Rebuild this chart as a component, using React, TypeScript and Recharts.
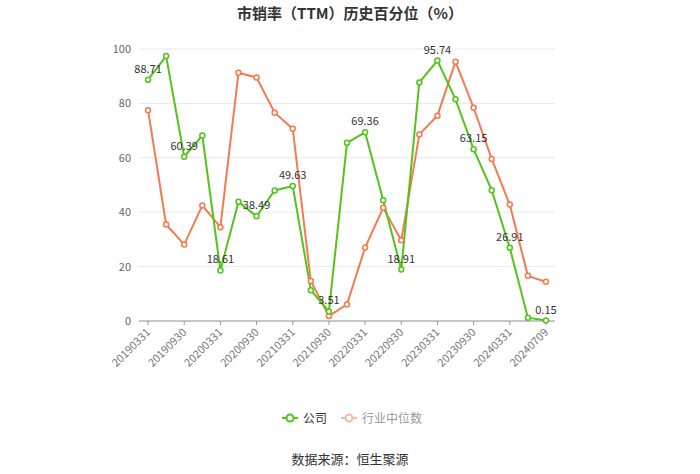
import React from "react";
import { LineChart, Line, XAxis, YAxis, CartesianGrid, LabelList } from "recharts";

const dates = [
  "20190331", "20190630", "20190930", "20191231", "20200331", "20200630", "20200930", "20201231",
  "20210331", "20210630", "20210930", "20211231", "20220331", "20220630", "20220930", "20221231",
  "20230331", "20230630", "20230930", "20231231", "20240331", "20240630", "20240709",
];
const company = [
  88.71, 97.4, 60.39, 68.2, 18.61, 43.8, 38.49, 48.0, 49.63, 11.3, 3.51, 65.5,
  69.36, 44.4, 18.91, 87.7, 95.74, 81.5, 63.15, 48.1, 26.91, 1.2, 0.15,
];
const industry = [
  77.5, 35.5, 28.1, 42.5, 34.5, 91.3, 89.5, 76.6, 70.7, 14.7, 1.8, 6.1,
  27.0, 41.6, 29.7, 68.6, 75.5, 95.3, 78.4, 59.6, 42.8, 16.6, 14.4,
];
const yTicks = [0, 20, 40, 60, 80, 100];

const GREEN = "#52c41a";
const ORANGE = "#f47a4f";
const FONT = '"Noto Sans CJK SC", "Noto Sans", sans-serif';

const data = dates.map((d, i) => ({ date: d, company: company[i], industry: industry[i] }));

const renderLabel = (props: any) => {
  const { x, y, value, index } = props;
  if (index % 2 !== 0) return null;
  return (
    <text x={x} y={y - 7} textAnchor="middle" fontSize={11} fill="#333" fontFamily={FONT}>
      {value}
    </text>
  );
};

const XTick = (props: any) => {
  const { x, y, payload } = props;
  return (
    <text
      x={x + 3}
      y={y + 6}
      textAnchor="end"
      fontSize={11}
      fill="#777"
      fontFamily={FONT}
      transform={`rotate(-45, ${x + 3}, ${y + 6})`}
    >
      {payload.value}
    </text>
  );
};

const LegendIcon = ({ color }: { color: string }) => (
  <svg width={16} height={10} style={{ verticalAlign: "middle", marginRight: 5 }}>
    <line x1={0} y1={5} x2={16} y2={5} stroke={color} strokeWidth={2} />
    <circle cx={8} cy={5} r={3.5} fill="#fff" stroke={color} strokeWidth={2} />
  </svg>
);

export default function App() {
  return (
    <div style={{ position: "absolute", left: 0, top: 0, width: 700, height: 474, background: "#fff", fontFamily: FONT }}>
      <div style={{ position: "absolute", top: 2, width: 700, textAlign: "center", fontSize: 15, fontWeight: "bold", color: "#333" }}>
        市销率（TTM）历史百分位（%）
      </div>
      <LineChart width={700} height={474} data={data} margin={{ top: 49, right: 145, left: 99, bottom: 93 }}>
        <CartesianGrid vertical={false} stroke="#e8e8e8" />
        <XAxis
          dataKey="date"
          scale="band"
          interval={1}
          height={60}
          tick={<XTick />}
          tickLine={{ stroke: "#999" }}
          axisLine={{ stroke: "#999" }}
          tickSize={4}
        />
        <YAxis
          domain={[0, 100]}
          ticks={yTicks}
          width={40}
          axisLine={false}
          tickLine={false}
          tick={{ fontSize: 11, fill: "#666", fontFamily: FONT }}
        />
        <Line
          dataKey="industry"
          stroke={ORANGE}
          strokeWidth={2}
          dot={{ r: 2.5, fill: "#fff", stroke: ORANGE, strokeWidth: 1.5 }}
          isAnimationActive={false}
        />
        <Line
          dataKey="company"
          stroke={GREEN}
          strokeWidth={2}
          dot={{ r: 2.5, fill: "#fff", stroke: GREEN, strokeWidth: 1.5 }}
          isAnimationActive={false}
        >
          <LabelList dataKey="company" content={renderLabel} />
        </Line>
      </LineChart>
      <div style={{ position: "absolute", top: 409, left: 0, width: 700, display: "flex", justifyContent: "center", fontSize: 12 }}>
        <div style={{ display: "flex", alignItems: "center", marginLeft: 4, color: "#333" }}>
          <LegendIcon color={GREEN} />
          公司
        </div>
        <div style={{ display: "flex", alignItems: "center", marginLeft: 14, color: "#999" }}>
          <LegendIcon color="#f6b8a2" />
          行业中位数
        </div>
      </div>
      <div style={{ position: "absolute", top: 449, width: 700, textAlign: "center", fontSize: 13, color: "#333" }}>
        数据来源：恒生聚源
      </div>
    </div>
  );
}
